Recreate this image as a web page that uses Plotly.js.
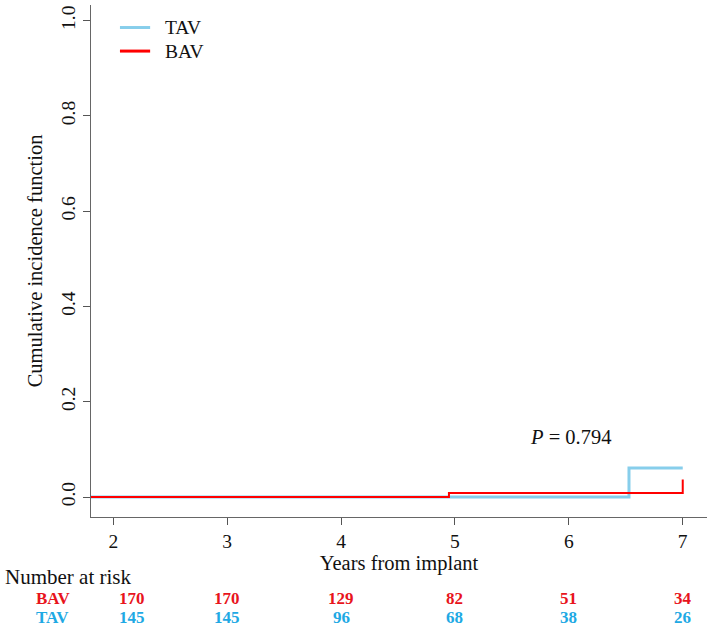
<!DOCTYPE html>
<html><head><meta charset="utf-8">
<script src="https://cdn.plot.ly/plotly-3.0.1.min.js"></script>
<style>body{margin:0;background:#fff}#c{width:709px;height:628px}</style>
</head><body><div id="c"></div>
<script>
const tavX = [1.8, 6.528, 7.0];
const tavY = [0.0, 0.061, 0.061];
const bavX = [1.8, 4.947, 7.0, 7.0];
const bavY = [0.0, 0.0085, 0.0085, 0.0366];
const riskTimes = [2, 3, 4, 5, 6, 7];
const riskBAV = [170, 170, 129, 82, 51, 34];
const riskTAV = [145, 145, 96, 68, 38, 26];
const yTicks = [0, 0.2, 0.4, 0.6, 0.8, 1.0];
const yTickText = ['0.0', '0.2', '0.4', '0.6', '0.8', '1.0'];
const xTicks = [2, 3, 4, 5, 6, 7];
const pText = '<i>P</i> = 0.794';
const groups = ['TAV', 'BAV'];

const serif = 'Liberation Serif, Times New Roman, serif';
const redT = '#e8141c', blueT = '#1ea9e4';
const lineCols = ['#87CEEB', '#ff0000'];

const traces = [
  {x: tavX, y: tavY, mode: 'lines', line: {shape: 'hv', color: lineCols[0], width: 3}, name: groups[0]},
  {x: bavX, y: bavY, mode: 'lines', line: {shape: 'hv', color: lineCols[1], width: 2}, name: groups[1]}
];

const ann = [];
const shapes = [];
// custom legend
const legY = [0.956, 0.910];
groups.forEach((g, i) => {
  shapes.push({type: 'line', xref: 'paper', yref: 'paper', x0: 0.047, x1: 0.096, y0: legY[i], y1: legY[i],
    line: {color: lineCols[i], width: 3}});
  ann.push({xref: 'paper', yref: 'paper', x: 0.119, y: legY[i], xanchor: 'left', yanchor: 'middle',
    borderpad: 0, text: g, showarrow: false, font: {family: serif, size: 19.5, color: '#111'}});
});
ann.push({xref: 'x', yref: 'y', x: 6.01, y: 0.127, text: pText, showarrow: false,
  font: {family: serif, size: 20.5, color: '#111'}});
ann.push({xref: 'paper', yref: 'paper', x: -0.143, y: -0.118, xanchor: 'left', yanchor: 'middle', text: 'Number at risk',
  showarrow: false, font: {family: serif, size: 21, color: '#111'}});
ann.push({xref: 'paper', yref: 'paper', x: -0.062, y: -0.160, xanchor: 'center', yanchor: 'middle', text: '<b>BAV</b>',
  borderpad: 0, showarrow: false, font: {family: serif, size: 17, color: redT}});
ann.push({xref: 'paper', yref: 'paper', x: -0.062, y: -0.197, xanchor: 'center', yanchor: 'middle', text: '<b>TAV</b>',
  borderpad: 0, showarrow: false, font: {family: serif, size: 17, color: blueT}});
riskTimes.forEach((t, i) => {
  const sh = i === 0 ? 19 : 0;
  ann.push({xref: 'x', yref: 'paper', x: t, y: -0.160, xshift: sh, yanchor: 'middle', text: '<b>' + riskBAV[i] + '</b>',
    borderpad: 0, showarrow: false, font: {family: serif, size: 17, color: redT}});
  ann.push({xref: 'x', yref: 'paper', x: t, y: -0.197, xshift: sh, yanchor: 'middle', text: '<b>' + riskTAV[i] + '</b>',
    borderpad: 0, showarrow: false, font: {family: serif, size: 17, color: blueT}});
});

const layout = {
  width: 709, height: 628,
  margin: {l: 91, r: 2, t: 5, b: 111},
  paper_bgcolor: '#fff', plot_bgcolor: '#fff',
  font: {family: serif, color: '#111'},
  showlegend: false,
  xaxis: {range: [1.804, 7.213], tickvals: xTicks, ticks: 'outside', ticklen: 7, tickcolor: '#555',
    showline: true, linecolor: '#666', linewidth: 1, showgrid: false, zeroline: false,
    tickfont: {family: serif, size: 19.5, color: '#111'},
    title: {text: 'Years from implant', font: {family: serif, size: 20.5, color: '#111'}, standoff: 4}},
  yaxis: {range: [-0.042, 1.033], tickvals: yTicks, ticktext: yTickText, tickangle: -90,
    ticks: 'outside', ticklen: 7, tickcolor: '#555',
    showline: true, linecolor: '#666', linewidth: 1, showgrid: false, zeroline: false,
    tickfont: {family: serif, size: 19.5, color: '#111'},
    title: {text: 'Cumulative incidence function', font: {family: serif, size: 20.5, color: '#111'}, standoff: 10}},
  annotations: ann,
  shapes: shapes
};
Plotly.newPlot('c', traces, layout, {displayModeBar: false, staticPlot: true});
</script></body></html>
